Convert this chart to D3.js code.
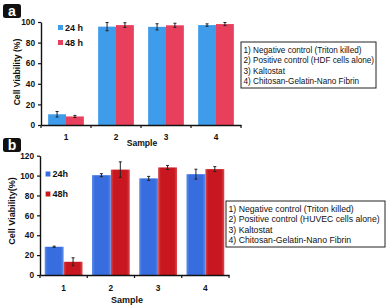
<!DOCTYPE html>
<html>
<head>
    <script src="https://d3js.org/d3.v7.min.js" charset="utf-8"></script>
    <style>
        body { margin: 0; background: #fff; }
        text { font-family: "Liberation Sans", Arial, sans-serif; }
    </style>
</head>
<body>
<script>
    // sample groups
    const samples = ["1", "2", "3", "4"];
    const series = ["24h", "48h"];

    // panel a: HDF cells
    const a24 = [10.4, 95.5, 95.3, 97];
    const a48 = [8.3, 97, 96.8, 98];
    const a24err = [2.7, 4, 3, 1.2];
    const a48err = [1, 2.3, 2, 1.5];
    const aTicks = [0, 20, 40, 60, 80, 100];
    const aLegend = ["24 h", "48 h"];
    const aNotes = ["1) Negative control (Triton killed)", "2) Positive control (HDF cells alone)",
                    "3) Kaltostat", "4) Chitosan-Gelatin-Nano Fibrin"];

    // panel b: HUVEC cells
    const b24 = [28.4, 100.4, 97.2, 101.4];
    const b48 = [13.3, 106, 108.2, 106.5];
    const b24err = [0.6, 1.5, 2, 5];
    const b48err = [4, 7.8, 2, 2.5];
    const bTicks = [0, 20, 40, 60, 80, 100, 120];
    const bLegend = ["24h", "48h"];
    const bNotes = ["1) Negative control (Triton killed)", "2) Positive control (HUVEC cells alone)",
                    "3) Kaltostat", "4) Chitosan-Gelatin-Nano Fibrin"];

    const svg = d3.select("body").append("svg")
        .attr("width", 389).attr("height", 308);

    const defs = svg.append("defs");
    const grad = (id, mid, edge) => {
        const g = defs.append("linearGradient").attr("id", id)
            .attr("x1", "0%").attr("x2", "100%").attr("y1", "0%").attr("y2", "0%");
        g.append("stop").attr("offset", "0%").attr("stop-color", edge);
        g.append("stop").attr("offset", "15%").attr("stop-color", mid);
        g.append("stop").attr("offset", "85%").attr("stop-color", mid);
        g.append("stop").attr("offset", "100%").attr("stop-color", edge);
    };
    grad("gBlue", "#386de0", "#5d8ee8");
    grad("gRed", "#c9171f", "#d94a4f");

    const drawPanel = (o) => {
        const y = d3.scaleLinear().domain(o.domain).range([o.y0, o.y1]);
        const x0 = d3.scaleBand().domain(samples).range([o.x0, o.x1]);
        const x1 = d3.scaleBand().domain(series).range([0, x0.bandwidth()])
            .paddingOuter(o.pad);

        const rows = samples.map((s, i) => ({
            s: s,
            vals: [
                {k: "24h", v: o.v24[i], e: o.e24[i]},
                {k: "48h", v: o.v48[i], e: o.e48[i]}
            ]
        }));

        const g = svg.append("g");
        const grp = g.selectAll("g.grp").data(rows).enter().append("g")
            .attr("transform", d => `translate(${x0(d.s)},0)`);

        grp.selectAll("rect").data(d => d.vals).enter().append("rect")
            .attr("x", d => x1(d.k))
            .attr("width", x1.bandwidth())
            .attr("y", d => y(d.v))
            .attr("height", d => y(0) - y(d.v))
            .attr("fill", d => d.k === "24h" ? o.blue : o.red);

        const eb = grp.selectAll("g.err").data(d => d.vals).enter().append("g")
            .attr("stroke", "#222").attr("stroke-width", 1);
        eb.append("line")
            .attr("x1", d => x1(d.k) + x1.bandwidth() / 2)
            .attr("x2", d => x1(d.k) + x1.bandwidth() / 2)
            .attr("y1", d => y(d.v + d.e)).attr("y2", d => y(d.v - d.e));
        eb.append("line")
            .attr("x1", d => x1(d.k) + x1.bandwidth() / 2 - 1.5)
            .attr("x2", d => x1(d.k) + x1.bandwidth() / 2 + 1.5)
            .attr("y1", d => y(d.v + d.e)).attr("y2", d => y(d.v + d.e));
        eb.append("line")
            .attr("x1", d => x1(d.k) + x1.bandwidth() / 2 - 1.5)
            .attr("x2", d => x1(d.k) + x1.bandwidth() / 2 + 1.5)
            .attr("y1", d => y(d.v - d.e)).attr("y2", d => y(d.v - d.e));

        // y axis
        const ya = g.append("g").attr("transform", `translate(${o.x0},0)`)
            .call(d3.axisLeft(y).tickValues(o.ticks).tickSize(3).tickPadding(3).tickSizeOuter(0));
        ya.select(".domain").attr("stroke", "#111").attr("stroke-width", 1.4);
        ya.selectAll(".tick line").attr("stroke", "#111").attr("stroke-width", 1.2);
        ya.selectAll("text").attr("font-size", 8.3).attr("font-weight", "bold").attr("fill", "#111")
            .attr("font-family", "Liberation Sans, Arial, sans-serif");

        // x axis, labels in centres
        const xa = g.append("g").attr("transform", `translate(0,${o.y0})`)
            .call(d3.axisBottom(x0).tickSize(0).tickPadding(o.labPad).tickSizeOuter(0));
        xa.select(".domain").attr("stroke", "#111").attr("stroke-width", 1.4);
        xa.selectAll("text").attr("font-size", 8.3).attr("font-weight", "bold").attr("fill", "#111")
            .attr("font-family", "Liberation Sans, Arial, sans-serif");
        // boundary ticks
        const edges = samples.map(s => x0(s)).concat([x0.range()[1]]);
        g.selectAll("line.edge").data(edges).enter().append("line")
            .attr("x1", d => d).attr("x2", d => d)
            .attr("y1", o.y0).attr("y2", o.y0 + 3)
            .attr("stroke", "#111").attr("stroke-width", 1.2);

        // axis titles
        g.append("text").attr("x", o.sampleX).attr("y", o.sampleY)
            .attr("text-anchor", "middle").attr("font-size", o.titleSize).attr("font-weight", "bold")
            .attr("fill", "#111").text("Sample");
        g.append("text")
            .attr("transform", `translate(${o.yTitleX},${o.yTitleY}) rotate(-90)`)
            .attr("text-anchor", "middle").attr("font-size", o.titleSize).attr("font-weight", "bold")
            .attr("fill", "#111").text(o.yTitle);

        // series legend
        const lg = g.selectAll("g.lg").data(o.legend).enter().append("g")
            .attr("transform", (d, i) => `translate(${o.lgX},${o.lgY + i * o.lgGap})`);
        lg.append("rect").attr("x", 0).attr("y", -2.5).attr("width", 5).attr("height", 5)
            .attr("fill", (d, i) => i === 0 ? o.blue : o.red);
        lg.append("text").attr("x", 7).attr("y", 3.3).attr("font-size", 9).attr("font-weight", "bold")
            .attr("fill", "#111").text(d => d);

        // notes box
        g.append("rect").attr("x", o.nbX).attr("y", o.nbY).attr("width", o.nbW).attr("height", o.nbH)
            .attr("fill", "#fff").attr("stroke", "#222").attr("stroke-width", 1);
        g.selectAll("text.note").data(o.notes).enter().append("text")
            .attr("x", o.nbX + 2.5).attr("y", (d, i) => o.nbY + 11 + i * 10.3)
            .attr("font-size", o.noteSize).attr("fill", "#111").text(d => d);

        // panel letter
        g.append("rect").attr("x", o.tagX).attr("y", o.tagY).attr("width", 18).attr("height", 14)
            .attr("rx", 2.5).attr("fill", "#111");
        g.append("text").attr("x", o.tagX + 9).attr("y", o.tagY + 11.5).attr("text-anchor", "middle")
            .attr("font-size", 14).attr("font-weight", "bold").attr("fill", "#fff").text(o.tag);
    };

    drawPanel({
        domain: [0, 100], y0: 125, y1: 22, x0: 41, x1: 241, pad: 0.4,
        v24: a24, v48: a48, e24: a24err, e48: a48err, ticks: aTicks,
        blue: "#3e9ceb", red: "#e8405c", labPad: 9,
        sampleX: 142, sampleY: 146, yTitleX: 20, yTitleY: 72, titleSize: 8.6,
        yTitle: "Cell Viability (%)",
        legend: aLegend, lgX: 58, lgY: 27.5, lgGap: 15,
        notes: aNotes, nbX: 241, nbY: 42, nbW: 135, nbH: 46, noteSize: 8.2,
        tag: "a", tagX: 3, tagY: 4
    });

    drawPanel({
        domain: [0, 120], y0: 275, y1: 155.7, x0: 40, x1: 229, pad: 0.25,
        v24: b24, v48: b48, e24: b24err, e48: b48err, ticks: bTicks,
        blue: "url(#gBlue)", red: "url(#gRed)", labPad: 10,
        sampleX: 127, sampleY: 303, yTitleX: 15, yTitleY: 211, titleSize: 9,
        yTitle: "Cell Viability(%)",
        legend: bLegend, lgX: 45.5, lgY: 174, lgGap: 20,
        notes: bNotes, nbX: 226, nbY: 201, nbW: 159, nbH: 46, noteSize: 8.7,
        tag: "b", tagX: 3, tagY: 138
    });
</script>
</body>
</html>
